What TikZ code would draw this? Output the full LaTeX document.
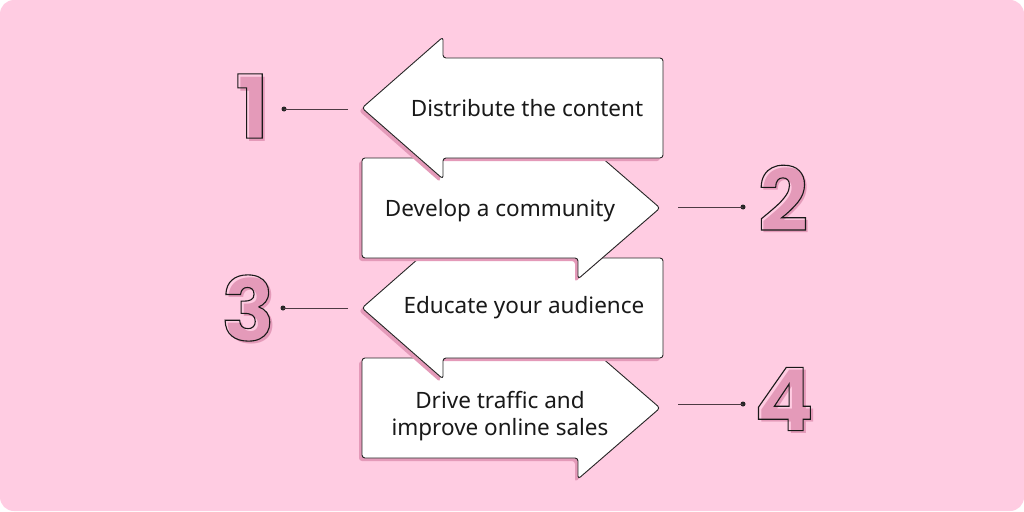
\documentclass[tikz,border=0pt]{standalone}
\usepackage{fontspec}
\setmainfont{Noto Sans}
\newfontfamily\numfont{Poppins}
\definecolor{bgpink}{HTML}{FFCCE2}
\definecolor{shpink}{HTML}{E49AB9}
\definecolor{linec}{HTML}{4D3A43}
\newcommand{\outlinetext}[1]{\special{pdf:literal direct 1 Tr 1.1 w}#1\special{pdf:literal direct 0 Tr}}
\newcommand{\LArrowPath}[1]{(362,#1) -- (443,#1-71) -- (443,#1-50) -- (663,#1-50) -- (663,#1+50) -- (443,#1+50) -- (443,#1+71) -- cycle}
\newcommand{\RArrowPath}[1]{(362,#1-50) -- (578,#1-50) -- (578,#1-71) -- (660,#1) -- (578,#1+71) -- (578,#1+50) -- (362,#1+50) -- cycle}
\tikzset{
  arrowbox/.style={draw=black!85, fill=white, line width=0.9pt, rounded corners=3pt, line join=round},
  shadowbox/.style={fill=shpink, rounded corners=3pt},
  lbl/.style={font=\fontsize{22.5}{27.5}\selectfont, text=black!90, align=center, inner sep=0pt},
  conn/.style={draw=linec, line width=1pt},
  dotnode/.style={circle, fill=black!85, inner sep=0pt, minimum size=5pt},
  digitfill/.style={font=\numfont\bfseries\fontsize{88}{88}\selectfont, text=shpink, inner sep=0pt},
  digitline/.style={font=\numfont\bfseries\fontsize{88}{88}\selectfont, text=black!90, inner sep=0pt},
}
\begin{document}
\begin{tikzpicture}[x=1pt,y=-1pt]
\fill[white] (0,0) rectangle (1024,511);
\fill[bgpink, rounded corners=14pt] (0,0) rectangle (1024,511);
\useasboundingbox (0,0) rectangle (1024,511);
% arrows, bottom first
\fill[shadowbox, shift={(-3,3)}] \RArrowPath{408};
\draw[arrowbox] \RArrowPath{408};
\fill[shadowbox, shift={(-3,3)}] \LArrowPath{308};
\draw[arrowbox] \LArrowPath{308};
\fill[shadowbox, shift={(-3,3)}] \RArrowPath{208};
\draw[arrowbox] \RArrowPath{208};
\fill[shadowbox, shift={(-3,3)}] \LArrowPath{108};
\draw[arrowbox] \LArrowPath{108};
% labels
\node[lbl] (t1) at (527,108) {Distribute the content};
\node[lbl] (t2) at (500,211) {Develop a community};
\node[lbl] (t3) at (524,308) {Educate your audience};
\node[lbl] (t4) at (500,416) {Drive traffic and\\improve online sales};
% connectors
\node[dotnode] (d1) at (284,109) {};
\coordinate (e1) at (348,109);
\draw[conn] (e1) -- (d1.center);
\node[dotnode] (d2) at (743,207) {};
\coordinate (e2) at (678,207);
\draw[conn] (e2) -- (d2.center);
\node[dotnode] (d3) at (283,308) {};
\coordinate (e3) at (348,308);
\draw[conn] (e3) -- (d3.center);
\node[dotnode] (d4) at (743,404) {};
\coordinate (e4) at (678,404);
\draw[conn] (e4) -- (d4.center);
% digits
\node[digitfill] (s1) at (255,109) {1};
\node[digitline] (n1) at (252,106) {\outlinetext{1}};
\node[digitfill] (s2) at (786,201) {2};
\node[digitline] (n2) at (783,198) {\outlinetext{2}};
\node[digitfill] (s3) at (251,311) {3};
\node[digitline] (n3) at (248,308) {\outlinetext{3}};
\node[digitfill] (s4) at (787,402) {4};
\node[digitline] (n4) at (784,399) {\outlinetext{4}};
\end{tikzpicture}
\end{document}
